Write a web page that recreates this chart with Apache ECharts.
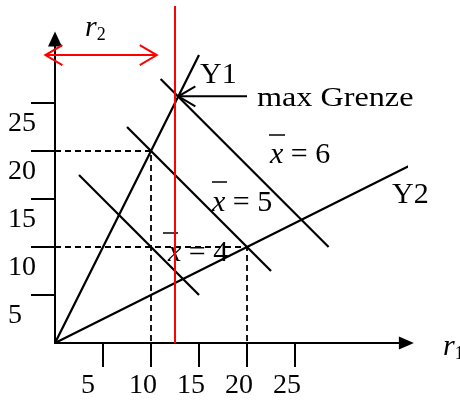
<!DOCTYPE html>
<html>
<head>
<meta charset="utf-8">
<script src="https://cdn.jsdelivr.net/npm/echarts@6.0.0/dist/echarts.min.js"></script>
<style>
  html, body { margin: 0; padding: 0; background: #fff; }
  #main { width: 460px; height: 403px; }
</style>
</head>
<body>
<div id="main"></div>
<script>
// tick labels on both axes
const xTicks = [5, 10, 15, 20, 25];
const yTicks = [5, 10, 15, 20, 25];

// rays Y1 / Y2
const y1Line = [[0, 0], [15, 30]];
const y2Line = [[0, 0], [40, 20]];

// lines x-bar = 4, 5, 6
const iso4 = [[2.5, 17.5], [15, 5]];
const iso5 = [[7.5, 22.5], [22.5, 7.5]];
const iso6 = [[11, 27.5], [28.5, 10]];

// dashed helper lines
const guideA = [[0, 20], [10, 20], [10, 0]];
const guideB = [[0, 10], [20, 10], [20, 0]];

// red limit r2
const limitLine = [[12.5, 0], [12.5, 35.1]];
const r2Arrow = [[-1, 30, 10.6, 30, 2]];   // x1, y1, x2, y2, heads
const maxArrow = [[20, 25.7, 12.85, 25.7, 1]];

const FONT = '"Liberation Serif", "Times New Roman", serif';

function arrowRender(color) {
  return function (params, api) {
    const a = api.coord([api.value(0), api.value(1)]);
    const b = api.coord([api.value(2), api.value(3)]);
    const heads = api.value(4);
    const len = Math.hypot(b[0] - a[0], b[1] - a[1]);
    const ux = (b[0] - a[0]) / len, uy = (b[1] - a[1]) / len;
    const px = -uy, py = ux;
    const L = 17, W = 10;
    function head(t, dx, dy) {
      return {
        type: 'polyline',
        shape: { points: [[t[0] - dx * L + px * W, t[1] - dy * L + py * W], t, [t[0] - dx * L - px * W, t[1] - dy * L - py * W]] },
        style: { stroke: color, lineWidth: 2, fill: null }
      };
    }
    const children = [
      { type: 'line', shape: { x1: a[0], y1: a[1], x2: b[0], y2: b[1] }, style: { stroke: color, lineWidth: 2 } },
      head(b, ux, uy)
    ];
    if (heads === 2) children.push(head(a, -ux, -uy));
    return { type: 'group', children: children };
  };
}

function seg(data, color, width, dash) {
  return {
    type: 'line',
    data: data,
    showSymbol: false,
    symbol: 'none',
    clip: false,
    silent: true,
    lineStyle: { color: color, width: width, type: dash || 'solid' },
    z: 3
  };
}

function txt(x, y, text, size, extra) {
  return Object.assign({
    type: 'text', x: x, y: y, silent: true,
    style: {
      text: text, font: size + 'px ' + FONT, fill: '#000',
      align: 'left', verticalAlign: 'middle', textAlign: 'left', textVerticalAlign: 'middle',
      rich: {
        i: { fontStyle: 'italic', fontFamily: FONT, fontSize: size },
        s: { fontFamily: FONT, fontSize: Math.round(size * 0.6), padding: [Math.round(size * 0.45), 0, 0, 0] }
      }
    }
  }, extra || {});
}

function bar(x1, x2, y) {
  return { type: 'line', silent: true, shape: { x1: x1, y1: y, x2: x2, y2: y }, style: { stroke: '#000', lineWidth: 1.5 } };
}

const chart = echarts.init(document.getElementById('main'), null, { renderer: 'canvas' });

chart.setOption({
  animation: false,
  backgroundColor: '#fff',
  grid: { left: 55, right: 53.6, top: 39, bottom: 60, containLabel: false },
  xAxis: {
    type: 'value', min: 0, max: 36.6, interval: 5,
    axisLine: { lineStyle: { color: '#000', width: 2 }, symbol: ['none', 'triangle'], symbolSize: [13, 15] },
    axisTick: { customValues: xTicks, length: 24, lineStyle: { color: '#000', width: 2 } },
    axisLabel: {
      customValues: xTicks, color: '#000', fontFamily: FONT, fontSize: 28,
      margin: 29, align: 'left', padding: [0, 0, 0, -22]
    },
    splitLine: { show: false }
  },
  yAxis: {
    type: 'value', min: 0, max: 31.67, interval: 5,
    axisLine: { lineStyle: { color: '#000', width: 2 }, symbol: ['none', 'triangle'], symbolSize: [14, 15] },
    axisTick: { customValues: yTicks, length: 24, lineStyle: { color: '#000', width: 2 } },
    axisLabel: {
      customValues: yTicks, color: '#000', fontFamily: FONT, fontSize: 28,
      margin: 47, align: 'left', verticalAlign: 'top', lineHeight: 42
    },
    splitLine: { show: false }
  },
  series: [
    seg(guideA, '#000', 1.8, [6, 4]),
    seg(guideB, '#000', 1.8, [6, 4]),
    seg(y1Line, '#000', 2.2),
    seg(y2Line, '#000', 2.2),
    seg(iso4, '#000', 2.2),
    seg(iso5, '#000', 2.2),
    seg(iso6, '#000', 2.2),
    seg(limitLine, '#ff0000', 2),
    {
      type: 'custom', data: r2Arrow, clip: false, silent: true, z: 4,
      encode: { x: [0, 2], y: [1, 3] },
      renderItem: arrowRender('#ff0000')
    },
    {
      type: 'custom', data: maxArrow, clip: false, silent: true, z: 4,
      encode: { x: [0, 2], y: [1, 3] },
      renderItem: arrowRender('#000')
    }
  ],
  graphic: [
    txt(85, 28, '{i|r}{s|2}', 30),
    txt(443, 347, '{i|r}{s|1}', 30),
    txt(200, 75, 'Y1', 30),
    txt(257, 99, 'max Grenze', 28, { scaleX: 1.15 }),
    txt(392, 195, 'Y2', 30),
    txt(270, 155, '{i|x} = 6', 30),
    bar(269, 285, 135),
    txt(212, 203, '{i|x} = 5', 30),
    bar(212, 227, 182),
    txt(168, 253, '{i|x} = 4', 30),
    bar(163, 178, 233)
  ]
});
</script>
</body>
</html>
